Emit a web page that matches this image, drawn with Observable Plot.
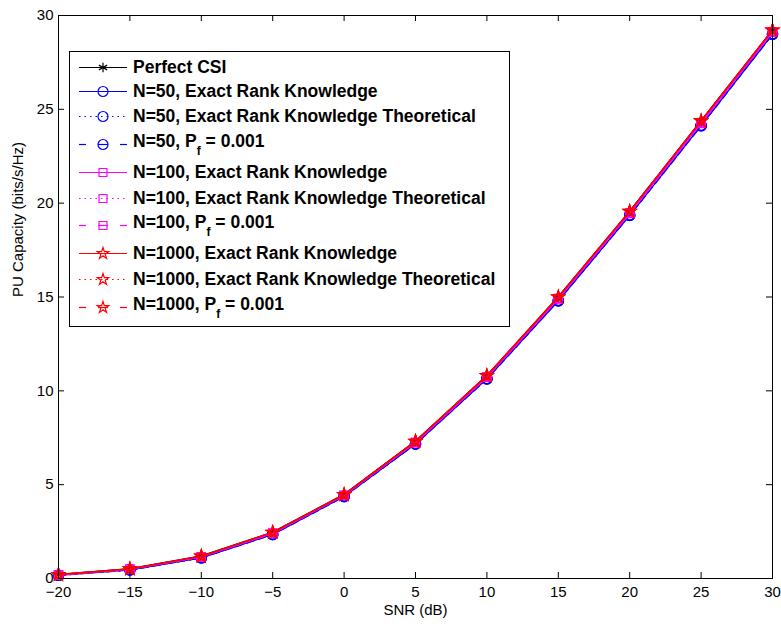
<!DOCTYPE html>
<html>
<head>
<meta charset="utf-8">
<script src="https://cdn.jsdelivr.net/npm/d3@7"></script>
<script src="https://cdn.jsdelivr.net/npm/@observablehq/plot@0.6"></script>
<style>
  body { margin: 0; background: #fff; }
  #wrap { position: relative; width: 781px; height: 624px; font-family: "Liberation Sans", Arial, Helvetica, sans-serif; }
  #legend { position: absolute; left: 69px; top: 51px; width: 441px; height: 276px; box-sizing: border-box;
            border: 1px solid #000; background: #fff; }
  .row { position: absolute; left: 0; height: 25px; width: 100%; }
  .row svg { position: absolute; left: 9px; top: 0; }
  .row .lab { position: absolute; left: 63px; top: 0; line-height: 25px; font-size: 17.5px; font-weight: bold; color: #000; white-space: nowrap; }
  .row .lab .sub { position: relative; top: 8px; font-size: 12px; }
</style>
</head>
<body>
<div id="wrap"></div>
<script>
// ---------- data ----------
const snr = [-20, -15, -10, -5, 0, 5, 10, 15, 20, 25, 30];
const perfectCSI   = [0.21, 0.52, 1.20, 2.47, 4.48, 7.32, 10.82, 15.01, 19.57, 24.39, 29.23];
const n50Exact     = [0.17, 0.46, 1.10, 2.35, 4.37, 7.17, 10.64, 14.80, 19.35, 24.13, 29.00];
const n50Theo      = [0.17, 0.46, 1.11, 2.35, 4.38, 7.18, 10.65, 14.81, 19.36, 24.14, 29.01];
const n50Pf        = [0.17, 0.45, 1.10, 2.34, 4.36, 7.16, 10.63, 14.79, 19.34, 24.12, 28.99];
const n100Exact    = [0.19, 0.49, 1.15, 2.41, 4.43, 7.25, 10.73, 14.91, 19.46, 24.26, 29.12];
const n100Theo     = [0.19, 0.49, 1.16, 2.41, 4.43, 7.25, 10.74, 14.92, 19.47, 24.27, 29.13];
const n100Pf       = [0.19, 0.48, 1.15, 2.40, 4.42, 7.24, 10.72, 14.90, 19.45, 24.25, 29.11];
const n1000Exact   = [0.21, 0.51, 1.19, 2.46, 4.47, 7.31, 10.81, 15.00, 19.56, 24.38, 29.22];
const n1000Theo    = [0.21, 0.51, 1.19, 2.46, 4.47, 7.31, 10.81, 15.00, 19.56, 24.38, 29.22];
const n1000Pf      = [0.20, 0.51, 1.18, 2.45, 4.46, 7.30, 10.80, 14.99, 19.55, 24.37, 29.21];

const seriesNames = [
  "Perfect CSI",
  "N=50, Exact Rank Knowledge",
  "N=50, Exact Rank Knowledge Theoretical",
  "N=50, P_f = 0.001",
  "N=100, Exact Rank Knowledge",
  "N=100, Exact Rank Knowledge Theoretical",
  "N=100, P_f = 0.001",
  "N=1000, Exact Rank Knowledge",
  "N=1000, Exact Rank Knowledge Theoretical",
  "N=1000, P_f = 0.001"
];
const seriesValues = [perfectCSI, n50Exact, n50Theo, n50Pf, n100Exact, n100Theo, n100Pf, n1000Exact, n1000Theo, n1000Pf];
const xTicks = [-20, -15, -10, -5, 0, 5, 10, 15, 20, 25, 30];
const yTicks = [0, 5, 10, 15, 20, 25, 30];

// ---------- styles ----------
const seriesColor  = ["#000000", "#0000ff", "#0000ff", "#0000ff", "#ff00ff", "#ff00ff", "#ff00ff", "#ff0000", "#ff0000", "#ff0000"];
const seriesDash   = ["solid", "solid", "dotted", "dashed", "solid", "dotted", "dashed", "solid", "dotted", "dashed"];
const seriesSymbol = ["asterisk", "circle", "circle", "circle", "square", "square", "square", "star", "star", "star"];
const symbolR = {asterisk: 4.5, circle: 5, square: 4.5, star: 3.6};
const d3Sym = {asterisk: d3.symbolAsterisk, circle: d3.symbolCircle, square: d3.symbolSquare, star: d3.symbolStar};
const dashArr = {solid: null, dotted: "1.5,4", dashed: "7,5"};

const W = 781, H = 624;
const mL = 58, mR = 9, mT = 15, mB = 46;
const plotW = W - mL - mR, plotH = H - mT - mB;
const font = "Liberation Sans, Arial, Helvetica, sans-serif";

const marks = [];
seriesNames.forEach((name, i) => {
  const rows = snr.map((x, j) => ({snr: x, cap: seriesValues[i][j]}));
  marks.push(Plot.line(rows, {x: "snr", y: "cap", stroke: seriesColor[i], strokeWidth: 1.4,
                               strokeDasharray: dashArr[seriesDash[i]]}));
  marks.push(Plot.dot(rows, {x: "snr", y: "cap", symbol: seriesSymbol[i], r: symbolR[seriesSymbol[i]],
                              stroke: seriesColor[i], fill: "none", strokeWidth: 1.5}));
});

const chart = Plot.plot({
  width: W, height: H,
  marginLeft: mL, marginRight: mR, marginTop: mT, marginBottom: mB,
  style: {fontFamily: font, fontSize: "15px", color: "#000", background: "#fff"},
  x: {domain: [-20, 30], label: null},
  y: {domain: [0, 30], label: null},
  marks: [
    ...marks,
    Plot.frame({stroke: "#000", strokeWidth: 1}),
    Plot.tickX(xTicks, {x: d => d, stroke: "#000", insetTop: plotH - 6}),
    Plot.tickX(xTicks, {x: d => d, stroke: "#000", insetBottom: plotH - 6}),
    Plot.tickY(yTicks, {y: d => d, stroke: "#000", insetRight: plotW - 6}),
    Plot.tickY(yTicks, {y: d => d, stroke: "#000", insetLeft: plotW - 6}),
    Plot.axisX(xTicks, {tickSize: 0, tickPadding: 8, fontSize: 15, label: null}),
    Plot.axisY(yTicks, {tickSize: 0, tickPadding: 5, fontSize: 15, label: null}),
    Plot.text(["SNR (dB)"], {frameAnchor: "bottom", dy: 36, fontSize: 15, fill: "#000"}),
    Plot.text(["PU Capacity (bits/s/Hz)"], {frameAnchor: "left", dx: -40, rotate: -90, fontSize: 15, fill: "#000"})
  ]
});
const wrap = document.getElementById("wrap");
wrap.appendChild(chart);

// ---------- legend (HTML overlay) ----------
const legendRowCenter = [16.7, 40.7, 65, 93.3, 121.7, 147.3, 174, 202.3, 228.3, 256.3]; // from box top
const legend = document.createElement("div");
legend.id = "legend";
seriesNames.forEach((name, i) => {
  const row = document.createElement("div");
  row.className = "row";
  row.style.top = (legendRowCenter[i] - 1 - 12.5) + "px";
  const svg = d3.create("svg").attr("width", 50).attr("height", 25);
  const c = seriesColor[i];
  if (seriesDash[i] === "dashed") {
    [[0, 7], [19, 29], [41, 48]].forEach(([a, b]) =>
      svg.append("line").attr("x1", a).attr("x2", b).attr("y1", 12.5).attr("y2", 12.5).attr("stroke", c).attr("stroke-width", 1.2));
  } else {
    svg.append("line").attr("x1", 0).attr("x2", 48).attr("y1", 12.5).attr("y2", 12.5)
      .attr("stroke", c).attr("stroke-width", 1.2).attr("stroke-dasharray", dashArr[seriesDash[i]]);
  }
  const r = symbolR[seriesSymbol[i]];
  svg.append("path").attr("d", d3.symbol(d3Sym[seriesSymbol[i]], Math.PI * r * r)())
    .attr("transform", "translate(24,12.5)").attr("fill", "none").attr("stroke", c).attr("stroke-width", 1.2);
  row.appendChild(svg.node());
  const lab = document.createElement("div");
  lab.className = "lab";
  const parts = name.split("P_f");
  if (parts.length === 2) {
    lab.style.top = "-2.5px";
    lab.append(parts[0] + "P");
    const s = document.createElement("span"); s.className = "sub"; s.textContent = "f";
    lab.append(s);
    lab.append(parts[1]);
  } else {
    lab.textContent = name;
  }
  row.appendChild(lab);
  legend.appendChild(row);
});
wrap.appendChild(legend);
</script>
</body>
</html>
